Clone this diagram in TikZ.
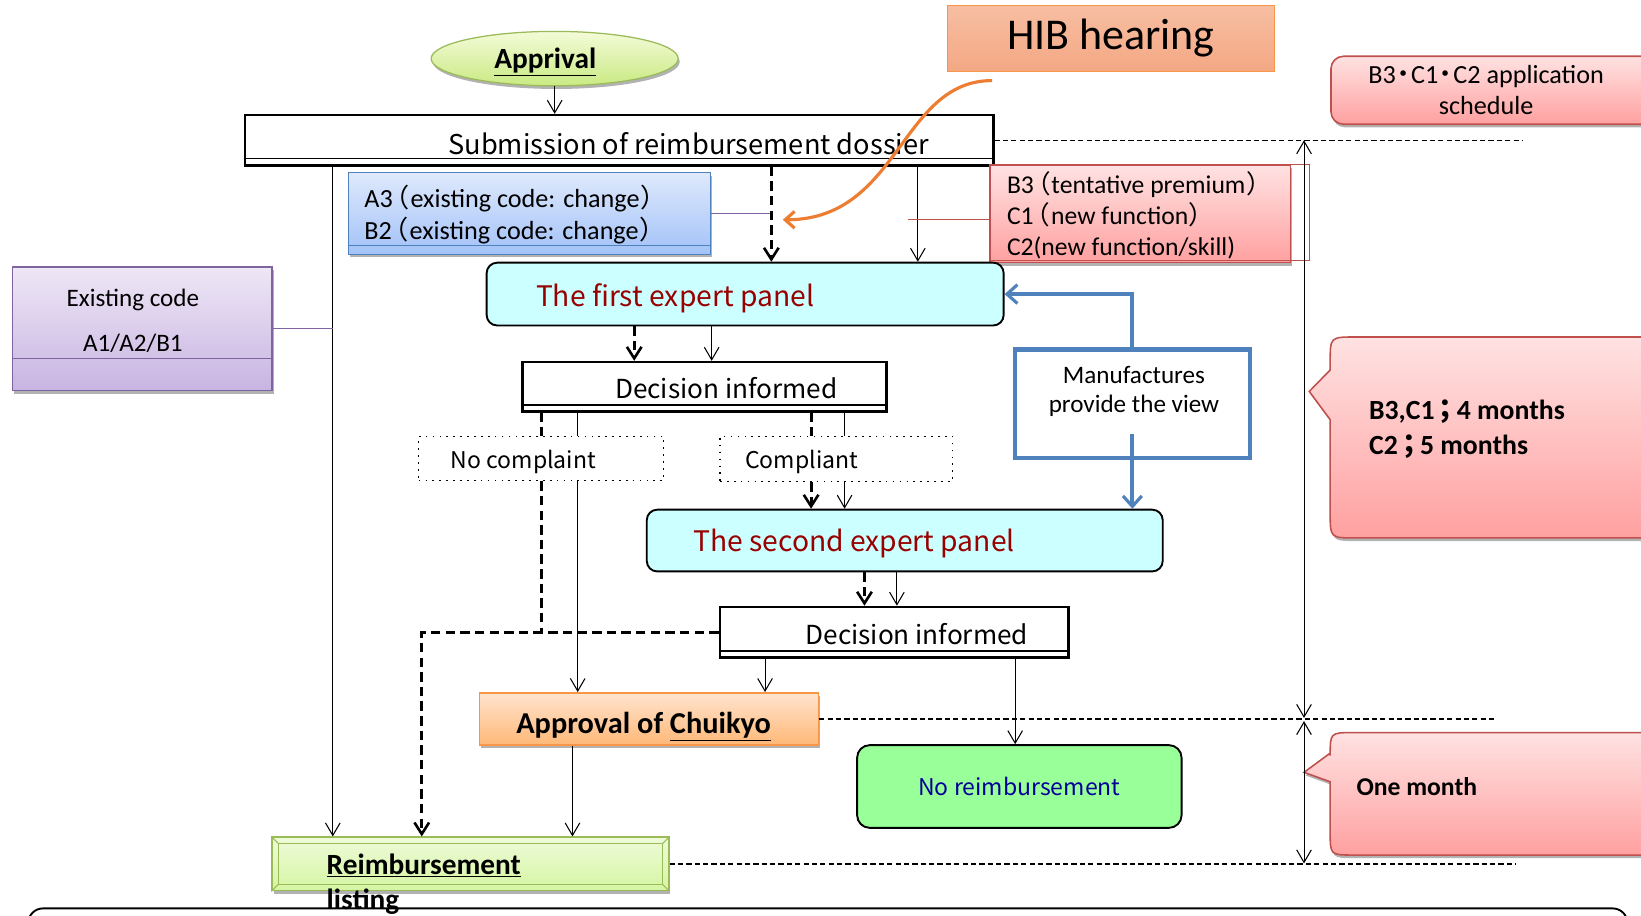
\documentclass[tikz,border=0pt]{standalone}
\usepackage{fontspec}
\setmainfont{Carlito}
\newfontfamily\goth{Noto Sans CJK JP}
\newfontfamily\gothp[RawFeature=+palt]{Noto Sans CJK JP}
\usetikzlibrary{arrows.meta,shadows,shapes.geometric}
\definecolor{olv}{HTML}{9BBB59}
\definecolor{bluB}{HTML}{4F81BD}
\definecolor{purB}{HTML}{8064A2}
\definecolor{redB}{HTML}{C0504D}
\definecolor{orgB}{HTML}{F79646}
\definecolor{orgL}{HTML}{ED7D31}
\definecolor{drk}{HTML}{990000}
\definecolor{nvy}{HTML}{000099}
\definecolor{cyL}{HTML}{CCFFFF}
\definecolor{grL}{HTML}{99FF99}
\newcommand{\fsz}[2]{\fontsize{#1}{#2}\selectfont}
\newcommand{\lpar}{\kern3pt{\gothp （}\kern1.5pt}
\newcommand{\rpar}{\kern1.5pt{\gothp ）}}
\newcommand{\jdot}{\kern1pt{\gothp ・}\kern1pt}
\newcommand{\jsemi}{\kern4pt{\gothp ；}\kern4pt}
\begin{document}
\begin{tikzpicture}[x=1pt,y=-1pt,
  every node/.style={inner sep=0pt},
  arr/.style={-{Straight Barb[length=12pt,width=14pt]}, line width=1pt},
  darr/.style={-{Straight Barb[length=11pt,width=14pt,line width=2.5pt]}, line width=3pt, dash pattern=on 9pt off 5pt},
  dln/.style={line width=3pt, dash pattern=on 9pt off 5pt},
  thindash/.style={line width=1.3pt, dash pattern=on 5pt off 3pt},
  bluarr/.style={bluB, line width=4pt, -{Straight Barb[length=10pt,width=18pt,line width=3pt]}},
  shd/.style={drop shadow={shadow xshift=1.5pt,shadow yshift=-3pt,opacity=.3,fill=black}},
  dbox/.style={draw, line width=2.5pt, fill=white},
  dotbox/.style={draw, line width=1.6pt, dash pattern=on 1.6pt off 5pt, fill=white},
  panel/.style={draw, line width=1.8pt, rounded corners=10pt, fill=cyL},
  pinkfill/.style={draw=redB, line width=1.5pt, top color={rgb,255:red,255;green,226;blue,226}, bottom color={rgb,255:red,255;green,160;blue,160}},
]
\useasboundingbox (0,0) rectangle (1568,875);
\clip (0,0) rectangle (1568,875);
\fill[white] (0,0) rectangle (1568,875);

% bottom rounded frame
\draw[line width=1.8pt, rounded corners=14pt] (27,905) -- (27,868) -- (1555,868) -- (1555,905);

% ---------- nodes ----------
\node[ellipse, draw=olv, line width=1.2pt, top color={rgb,255:red,244;green,251;blue,216}, bottom color={rgb,255:red,201;green,234;blue,131}, minimum width=236pt, minimum height=52pt, shd] (apr) at (530,56) {};
\node[font=\fsz{28}{32}\bfseries] (aprt) at (521,59) {\underline{Apprival}};

\node[draw=orgB, line width=1pt, top color={rgb,255:red,247;green,190;blue,162}, bottom color={rgb,255:red,244;green,168;blue,132}, minimum width=313pt, minimum height=63pt, font=\fsz{42}{46}] (hib) at (1061.5,36.5) {HIB hearing};

\node[pinkfill, rounded corners=12pt, minimum width=320pt, minimum height=65pt, anchor=north west, shd] (sch) at (1271,53) {};
\node[font=\fsz{25}{30.5}, align=center] (scht) at (1420,86) {B3\jdot C1\jdot C2 application\\schedule};

\node[dbox, minimum width=715pt, minimum height=48pt] (sub) at (591.5,134) {};
\draw[line width=1.5pt] ([yshift=8pt]sub.south west) -- ([yshift=8pt]sub.south east);
\node[font=\goth\fsz{26}{30}] (subt) at (658,137) {Submission of reimbursement dossier};

\node[draw=bluB, line width=1.5pt, top color={rgb,255:red,222;green,233;blue,252}, bottom color={rgb,255:red,163;green,194;blue,248}, minimum width=346pt, minimum height=78pt, shd] (a3) at (506,204) {};
\draw[bluB, line width=1.5pt] ([yshift=9pt]a3.south west) -- ([yshift=9pt]a3.south east);
\node[anchor=west, align=left, font=\fsz{25}{30}] (a3t) at (348,205) {A3\lpar existing code: change\rpar\\B2\lpar existing code: change\rpar};

\node[draw=purB, line width=1.5pt, top color={rgb,255:red,238;green,231;blue,246}, bottom color={rgb,255:red,200;green,180;blue,225}, minimum width=248pt, minimum height=118pt, shd] (ex) at (136,314) {};
\draw[purB, line width=1.5pt] ([yshift=31pt]ex.south west) -- ([yshift=31pt]ex.south east);
\node[font=\fsz{24}{43}, align=center] (ext) at (127,306.5) {Existing code\\A1/A2/B1};

\node[pinkfill, minimum width=287pt, minimum height=93pt, shd] (b3) at (1089.5,204.5) {};
\draw[redB, line width=1pt] (b3.north west) rectangle (1251,249);
\node[anchor=west, align=left, font=\fsz{24.5}{29.5}] (b3t) at (962,205.5) {B3\lpar tentative premium\rpar\\C1\lpar new function\rpar\\C2(new function/skill)};

\node[panel, minimum width=494pt, minimum height=60pt] (p1) at (712,281) {};
\node[font=\goth\fsz{27}{30}, text=drk] (p1t) at (645,285) {The first expert panel};

\node[dbox, minimum width=348pt, minimum height=47pt] (d1) at (673,369.5) {};
\draw[line width=1.5pt] ([yshift=7pt]d1.south west) -- ([yshift=7pt]d1.south east);
\node[font=\goth\fsz{25}{28}] (d1t) at (694,371) {Decision informed};

\node[draw=bluB, line width=4pt, fill=white, minimum width=224pt, minimum height=104pt] (mfr) at (1082,386) {};
\node[font=\fsz{24}{28.6}, align=center] (mfrt) at (1083.5,374) {Manufactures\\provide the view};

\node[dotbox, minimum width=234pt, minimum height=42pt] (nc) at (517,438) {};
\node[font=\goth\fsz{22}{26}] (nct) at (500,441) {No complaint};
\node[dotbox, minimum width=222pt, minimum height=43pt] (cp) at (799,438.5) {};
\node[font=\goth\fsz{22}{26}] (cpt) at (766,441) {Compliant};

\node[panel, minimum width=493pt, minimum height=59pt] (p2) at (864.5,516.5) {};
\node[font=\goth\fsz{27}{30}, text=drk] (p2t) at (816,519) {The second expert panel};

\node[dbox, minimum width=333pt, minimum height=48pt] (d2) at (854.5,604) {};
\draw[line width=1.5pt] ([yshift=7pt]d2.south west) -- ([yshift=7pt]d2.south east);
\node[font=\goth\fsz{25}{28}] (d2t) at (876,606) {Decision informed};

\node[draw=orgB, line width=1.5pt, top color={rgb,255:red,255;green,228;blue,207}, bottom color={rgb,255:red,255;green,184;blue,119}, minimum width=324pt, minimum height=50pt, shd] (ap) at (620,687) {};
\node[font=\fsz{29}{32}\bfseries] (apt) at (615,694) {Approval of \underline{Chuikyo}};

\node[draw, line width=1.8pt, rounded corners=12pt, fill=grL, minimum width=310pt, minimum height=79pt, text=nvy, font=\goth\fsz{22}{26}] (nr) at (974,751.5) {No reimbursement};

\node[draw=olv, line width=1.5pt, top color={rgb,255:red,238;green,251;blue,217}, bottom color={rgb,255:red,213;green,245;blue,162}, minimum width=379pt, minimum height=51pt, shd] (rl) at (449.5,825.5) {};
\draw[olv, line width=1pt] ([shift={(7pt,-7pt)}]rl.north west) rectangle ([shift={(-7pt,7pt)}]rl.south east);
\draw[olv, line width=1pt] (rl.north west) -- ([shift={(7pt,-7pt)}]rl.north west)
  (rl.north east) -- ([shift={(-7pt,-7pt)}]rl.north east)
  (rl.south west) -- ([shift={(7pt,7pt)}]rl.south west)
  (rl.south east) -- ([shift={(-7pt,7pt)}]rl.south east);
\node[anchor=west, align=left, font=\fsz{28}{34}\bfseries] (rlt) at (312,846) {\underline{Reimbursement}\\\underline{listing}};

% callouts
\path[pinkfill, shd] (1271,353.5) -- (1271,346) .. controls (1271,322) .. (1295,322) -- (1600,322) -- (1600,514) -- (1295,514) .. controls (1271,514) .. (1271,490) -- (1271,401) -- (1251,374) -- cycle;
\node[anchor=west, align=left, font=\fsz{26.5}{34}\bfseries] (c1t) at (1308,410) {B3,C1\jsemi 4 months\\C2\jsemi 5 months};
\path[pinkfill, shd] (1271,719.6) -- (1271,722) .. controls (1271,700) .. (1293,700) -- (1600,700) -- (1600,817) -- (1293,817) .. controls (1271,817) .. (1271,795) -- (1271,747) -- (1246,738) -- cycle;
\node[anchor=west, font=\fsz{24.5}{28}\bfseries] (c2t) at (1296,752) {One month};

% ---------- free ends ----------
\coordinate (hs) at (948,77);
\coordinate (he) at (748,210);
\coordinate (rdl) at (868,210);
\coordinate (t0) at (1246,134);
\coordinate (t1) at (1246,686);
\coordinate (t2) at (1246,689);
\coordinate (t3) at (1246,825);
\coordinate (dl1) at (1455,134);
\coordinate (dl2) at (1428,687);
\coordinate (dl3) at (1449,825.5);

% ---------- connectors ----------
\draw[arr] (apr.south) -- (apr.south |- sub.north);
\draw[arr] (318,0 |- sub.south) -- (318,0 |- rl.north);
\draw[purB, line width=1.3pt] (ex.east) -- (318,0 |- ex.east);
\draw[purB, line width=1.3pt] (a3.east) -- (737,0 |- a3.east);
\draw[darr] (737,0 |- sub.south) -- (737,0 |- p1.north);
\draw[arr] (877,0 |- sub.south) -- (877,0 |- p1.north);
\draw[redB, line width=1.3pt] (b3.west |- rdl) -- (rdl);

\draw[darr] (606,0 |- p1.south) -- (606,0 |- d1.north);
\draw[arr] (680,0 |- p1.south) -- (680,0 |- d1.north);

\draw[bluarr] (mfr.north) |- (p1.east);
\draw[bluarr] ([yshift=-29pt]mfr.center) -- (mfr.center |- p2.north);

\draw[dln] (517,0 |- d1.south) -- (517,0 |- nc.north);
\draw[dln] (517,0 |- nc.south) -- (517,0 |- d2.west);
\draw[line width=1pt] (552,0 |- d1.south) -- (552,0 |- nc.north);
\draw[arr] (552,0 |- nc.south) -- (552,0 |- ap.north);
\draw[dln] (775,0 |- d1.south) -- (775,0 |- cp.north);
\draw[darr] (775,0 |- cp.south) -- (775,0 |- p2.north);
\draw[line width=1pt] (807,0 |- d1.south) -- (807,0 |- cp.north);
\draw[arr] (807,0 |- cp.south) -- (807,0 |- p2.north);

\draw[darr] (826,0 |- p2.south) -- (826,0 |- d2.north);
\draw[arr] (857,0 |- p2.south) -- (857,0 |- d2.north);

\draw[darr] (d2.west) -| (403,0 |- rl.north);
\draw[arr] (731,0 |- d2.south) -- (731,0 |- ap.north);
\draw[arr] (970,0 |- d2.south) -- (970,0 |- nr.north);
\draw[arr] (547,0 |- ap.south) -- (547,0 |- rl.north);

\draw[thindash] (sub.east) -- (dl1);
\draw[thindash] (ap.east) -- (dl2);
\draw[thindash] (rl.east) -- (dl3);

\draw[line width=1pt, {Straight Barb[length=12pt,width=14pt]}-{Straight Barb[length=12pt,width=14pt]}] (t0) -- (t1);
\draw[line width=1pt, {Straight Barb[length=12pt,width=14pt]}-{Straight Barb[length=12pt,width=14pt]}] (t2) -- (t3);

\draw[orgL, line width=3pt, -{Straight Barb[length=9pt,width=16pt,line width=3pt]}] (hs) .. controls (860,77) and (860,210) .. (he);
\end{tikzpicture}
\end{document}
